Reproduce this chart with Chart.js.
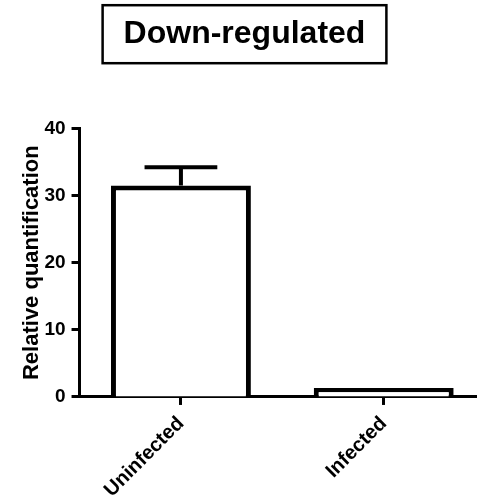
<!DOCTYPE html>
<html>
<head>
<meta charset="utf-8">
<script src="https://cdn.jsdelivr.net/npm/chart.js@4"></script>
<style>
  html, body { margin: 0; padding: 0; background: #fff; }
  #wrap { width: 477px; height: 497px; }
</style>
</head>
<body>
<div id="wrap"><canvas id="chart"></canvas></div>
<script>
// Relative quantification, mean +/- SD (upper whisker only).
const CATEGORIES = ['Uninfected', 'Infected'];
const MEANS = [31.5, 1.35];
const ERRORS = [2.7, null];
const Y_TICKS = [0, 10, 20, 30, 40];

const FONT = '"Liberation Sans", Arial, Helvetica, sans-serif';

// Box round the chart title, sized from the measured title text.
const titleBoxPlugin = {
    id: 'titleBox',
    afterDraw(chart) {
        const tb = chart.titleBlock;
        if (!tb) return;
        const opts = chart.options.plugins.title;
        const ctx = chart.ctx;
        ctx.save();
        ctx.font = `bold ${opts.font.size}px ${FONT}`;
        const w = ctx.measureText(opts.text).width;
        const cx = tb.left + tb.width / 2;
        const cy = tb.top + opts.padding.top + (opts.font.size * 1.2) / 2;
        ctx.lineWidth = 2.5;
        ctx.strokeStyle = '#000';
        ctx.strokeRect(cx - w / 2 - 21, cy - 29, w + 42, 58);
        ctx.restore();
    },
};

// Upper error bars drawn through the y scale.
const errorBarPlugin = {
    id: 'errorBars',
    afterDatasetsDraw(chart) {
        const meta = chart.getDatasetMeta(0);
        const y = chart.scales.y;
        const ctx = chart.ctx;
        ctx.save();
        ctx.strokeStyle = '#000';
        ctx.lineWidth = 4;
        meta.data.forEach((bar, i) => {
            if (ERRORS[i] == null) return;
            const top = y.getPixelForValue(MEANS[i] + ERRORS[i]);
            const base = y.getPixelForValue(MEANS[i]);
            const half = bar.width * 0.26;
            ctx.beginPath();
            ctx.moveTo(bar.x, base);
            ctx.lineTo(bar.x, top);
            ctx.moveTo(bar.x - half, top);
            ctx.lineTo(bar.x + half, top);
            ctx.stroke();
        });
        ctx.restore();
    },
};

new Chart(document.getElementById('chart'), {
    type: 'bar',
    data: {
        datasets: [{
            data: MEANS.map((v, i) => ({ x: i, y: v })),
            backgroundColor: '#fff',
            borderColor: '#000',
            borderWidth: 5,
            borderSkipped: 'start',
            categoryPercentage: 1,
            barPercentage: 0.69,
        }],
    },
    options: {
        responsive: true,
        maintainAspectRatio: false,
        animation: false,
        layout: { padding: { left: 12, right: 0, top: 0, bottom: -12 } },
        plugins: {
            legend: { display: false },
            tooltip: { enabled: false },
            title: {
                display: true,
                text: 'Down-regulated',
                color: '#000',
                font: { family: FONT, size: 32, weight: 'bold' },
                padding: { top: 15, bottom: 75 },
            },
        },
        scales: {
            x: {
                type: 'linear',
                offset: false,
                min: -0.5,
                max: 1.46,
                afterBuildTicks: (scale) => { scale.ticks = CATEGORIES.map((c, i) => ({ value: i })); },
                grid: { display: true, offset: false, drawOnChartArea: false, tickLength: 8, tickWidth: 3, tickColor: '#000' },
                border: { display: true, color: '#000', width: 3 },
                ticks: {
                    color: '#000',
                    font: { family: FONT, size: 20, weight: 'bold' },
                    minRotation: 45,
                    maxRotation: 45,
                    padding: 7,
                    callback: (v) => CATEGORIES[v],
                },
            },
            y: {
                min: 0,
                max: 40,
                afterBuildTicks: (scale) => { scale.ticks = Y_TICKS.map((v) => ({ value: v })); },
                grid: { display: true, drawOnChartArea: false, tickLength: 8, tickWidth: 3, tickColor: '#000' },
                border: { display: true, color: '#000', width: 3 },
                ticks: {
                    color: '#000',
                    font: { family: FONT, size: 19, weight: 'bold' },
                    padding: 6,
                },
                title: {
                    display: true,
                    text: 'Relative quantification',
                    color: '#000',
                    font: { family: FONT, size: 22, weight: 'bold' },
                    padding: { top: 7, bottom: -7 },
                },
            },
        },
    },
    plugins: [titleBoxPlugin, errorBarPlugin],
});
</script>
</body>
</html>
